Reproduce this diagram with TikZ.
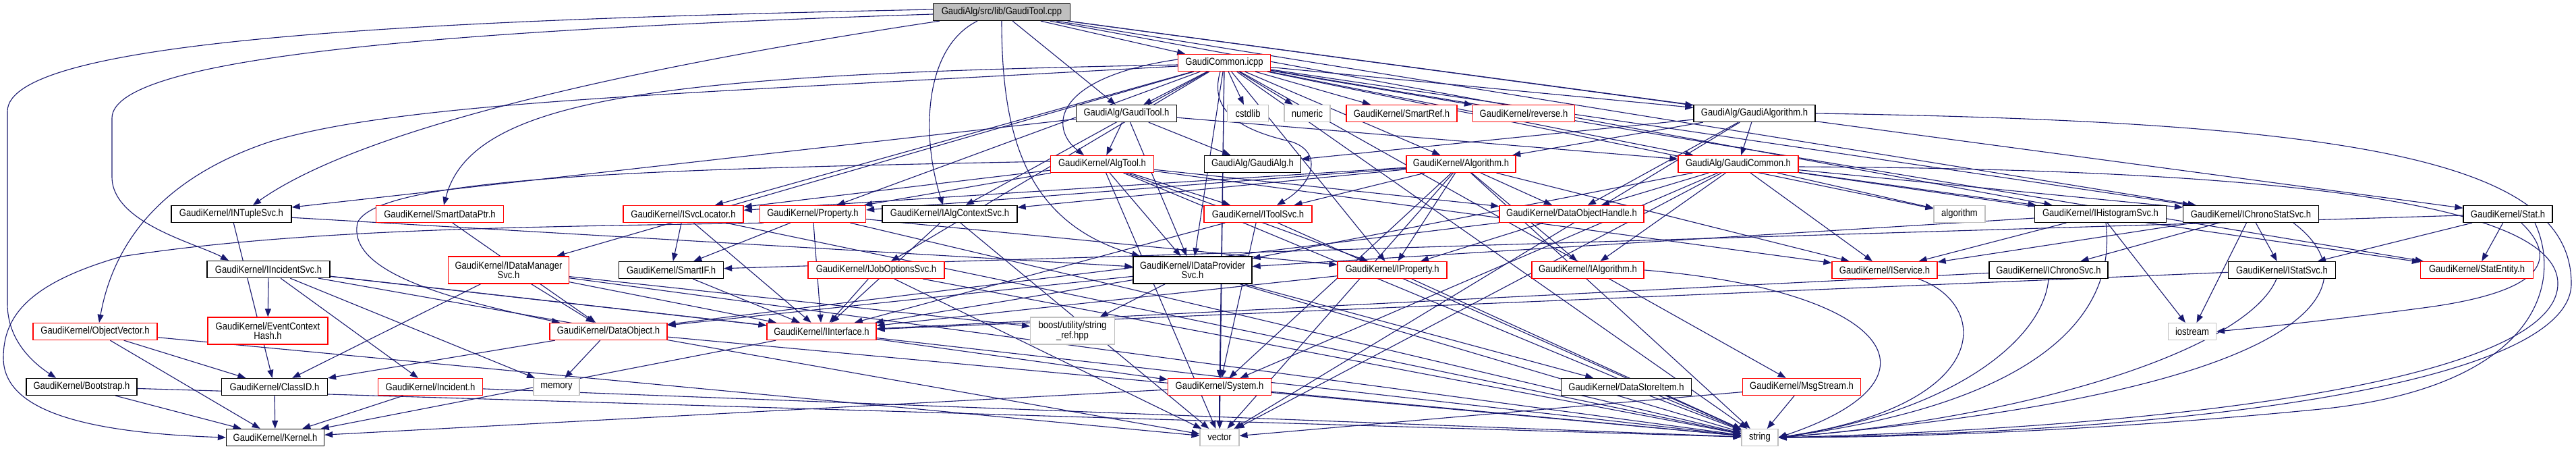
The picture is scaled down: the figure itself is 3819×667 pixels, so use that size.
\documentclass[tikz,border=0pt]{standalone}
\usepackage{fontspec}
\setmainfont{Liberation Sans}[FakeStretch=0.87]
\usetikzlibrary{arrows.meta,backgrounds}
\definecolor{edgec}{RGB}{25,25,112}
\definecolor{gyc}{RGB}{191,191,191}
\definecolor{rdc}{RGB}{255,0,0}
\newcommand\nfont{\fontsize{15}{14.5}\selectfont}
\begin{document}
\begin{tikzpicture}[x=1pt,y=-1pt,
  nb/.style={draw,line width=1.3pt,minimum height=25pt,inner xsep=1pt,inner ysep=1pt,font=\nfont,align=center,fill=white},
  blk/.style={nb,draw=black},
  rd/.style={nb,draw=rdc},
  gy/.style={nb,draw=gyc,line width=1.1pt},
  topn/.style={nb,draw=black,fill=gyc},
  two/.style={minimum height=40pt},
  e/.style={draw=edgec,line width=1.1pt,-{Triangle[length=12pt,width=9pt]}}]
\useasboundingbox (0,0) rectangle (3819,667);
% row 1-4
\node[topn,minimum width=203] (cpp) at (1485,18) {GaudiAlg/src/lib/GaudiTool.cpp};
\node[rd,minimum width=137] (icpp) at (1815,93) {GaudiCommon.icpp};
\node[blk,minimum width=149] (gtoolh) at (1670,168) {GaudiAlg/GaudiTool.h};
\node[gy,minimum width=61] (cstdlib) at (1850,168) {cstdlib};
\node[gy,minimum width=68] (numeric) at (1938,168) {numeric};
\node[rd,minimum width=164] (smartref) at (2078,168) {GaudiKernel/SmartRef.h};
\node[rd,minimum width=151] (reverse) at (2259,168) {GaudiKernel/reverse.h};
\node[blk,minimum width=180] (galgorithm) at (2601,168) {GaudiAlg/GaudiAlgorithm.h};
\node[rd,minimum width=153] (algtool) at (1634,243) {GaudiKernel/AlgTool.h};
\node[blk,minimum width=143] (galg) at (1857,243) {GaudiAlg/GaudiAlg.h};
\node[rd,minimum width=162] (algorithmh) at (2166,243) {GaudiKernel/Algorithm.h};
\node[rd,minimum width=178] (gcommon) at (2577,243) {GaudiAlg/GaudiCommon.h};
% row 5
\node[blk,minimum width=178] (intuple) at (343,317) {GaudiKernel/INTupleSvc.h};
\node[rd,minimum width=189] (smartdataptr) at (652,317) {GaudiKernel/SmartDataPtr.h};
\node[rd,minimum width=178] (svcloc) at (1013,317) {GaudiKernel/ISvcLocator.h};
\node[rd,minimum width=157] (property) at (1205,317) {GaudiKernel/Property.h};
\node[blk,minimum width=200] (algctx) at (1408,317) {GaudiKernel/IAlgContextSvc.h};
\node[rd,minimum width=160] (itoolsvc) at (1865,317) {GaudiKernel/IToolSvc.h};
\node[rd,minimum width=214] (doh) at (2330,317) {GaudiKernel/DataObjectHandle.h};
\node[gy,minimum width=76] (algorithm) at (2905,317) {algorithm};
\node[blk,minimum width=195] (ihisto) at (3114,317) {GaudiKernel/IHistogramSvc.h};
\node[blk,minimum width=201] (ichronostat) at (3337,317) {GaudiKernel/IChronoStatSvc.h};
\node[blk,minimum width=132] (stat) at (3718,317) {GaudiKernel/Stat.h};
% row 6
\node[blk,minimum width=182] (iincident) at (398,399) {GaudiKernel/IIncidentSvc.h};
\node[rd,two,minimum width=179] (idatamgr) at (754,400) {GaudiKernel/IDataManager\\Svc.h};
\node[blk,minimum width=155] (smartif) at (995,400) {GaudiKernel/SmartIF.h};
\node[rd,minimum width=202] (ijobopt) at (1299,400) {GaudiKernel/IJobOptionsSvc.h};
\node[blk,two,minimum width=176] (idataprov) at (1768,400) {GaudiKernel/IDataProvider\\Svc.h};
\node[rd,minimum width=162] (iproperty) at (2064,400) {GaudiKernel/IProperty.h};
\node[rd,minimum width=166] (ialgorithm) at (2354,400) {GaudiKernel/IAlgorithm.h};
\node[rd,minimum width=156] (iservice) at (2794,400) {GaudiKernel/IService.h};
\node[blk,minimum width=176] (ichrono) at (3037,400) {GaudiKernel/IChronoSvc.h};
\node[blk,minimum width=159] (istatsvc) at (3383,400) {GaudiKernel/IStatSvc.h};
\node[rd,minimum width=167] (statentity) at (3672,400) {GaudiKernel/StatEntity.h};
% row 7
\node[rd,minimum width=184] (objvec) at (141,491) {GaudiKernel/ObjectVector.h};
\node[rd,two,minimum width=178] (evctxhash) at (397,490) {GaudiKernel/EventContext\\Hash.h};
\node[rd,minimum width=174] (dataobject) at (902,491) {GaudiKernel/DataObject.h};
\node[rd,minimum width=162] (iinterface) at (1218,491) {GaudiKernel/IInterface.h};
\node[gy,two,minimum width=125] (boostsr) at (1590,490) {boost/utility/string\\\_ref.hpp};
\node[gy,minimum width=71] (iostream) at (3250,491) {iostream};
% row 8
\node[blk,minimum width=164] (bootstrap) at (121,573) {GaudiKernel/Bootstrap.h};
\node[blk,minimum width=157] (classid) at (407,573) {GaudiKernel/ClassID.h};
\node[rd,minimum width=155] (incident) at (638,573) {GaudiKernel/Incident.h};
\node[gy,minimum width=68] (memory) at (825,573) {memory};
\node[rd,minimum width=153] (system) at (1808,573) {GaudiKernel/System.h};
\node[blk,minimum width=193] (datastoreitem) at (2411,573) {GaudiKernel/DataStoreItem.h};
\node[rd,minimum width=175] (msgstream) at (2671,573) {GaudiKernel/MsgStream.h};
% row 9
\node[blk,minimum width=145] (kernel) at (408,648) {GaudiKernel/Kernel.h};
\node[gy,minimum width=58] (vector) at (1808,648) {vector};
\node[gy,minimum width=54] (string) at (2609,648) {string};

\begin{scope}[on background layer]
\fill[white] (0,0) rectangle (3819,667);
% curved connectors
\draw[e] ([yshift=4pt]cpp.west) .. controls (600,30) and (11,60) .. (11,165) -- (11,450) .. controls (11,505) and (50,538) .. ([xshift=-38pt]bootstrap.north);
\draw[e] ([yshift=-3pt]cpp.west) .. controls (650,45) and (166,85) .. (166,175) -- (166,262) .. controls (166,330) and (290,360) .. ([xshift=-59pt]iincident.north);
\draw[e] ([xshift=10pt]cpp.south west) .. controls (1000,90) and (550,180) .. ([xshift=32pt]intuple.north);
\draw[e] ([xshift=-36pt]cpp.south) .. controls (1370,70) and (1365,200) .. ([xshift=-10pt]algctx.north);
\draw[e] (cpp.south) .. controls (1485,200) and (1520,330) .. ([xshift=-78pt]idataprov.north);
\draw[e] ([yshift=-5pt]icpp.west) .. controls (1000,140) and (600,150) .. (400,210) .. controls (250,260) and (170,350) .. ([xshift=6pt]objvec.north);
\draw[e] ([yshift=-3pt]icpp.west) .. controls (1000,110) and (700,140) .. ([xshift=6pt]smartdataptr.north);
\draw[e] ([yshift=5pt]icpp.west) .. controls (1560,115) and (1555,190) .. ([xshift=-27pt]algtool.north);
\draw[e] ([xshift=-6pt]icpp.south) .. controls (1790,170) and (1850,195) .. (1915,210) .. controls (1960,225) and (1950,270) .. ([xshift=28pt]itoolsvc.north);
\draw[e] ([xshift=6pt]property.south west) .. controls (800,336) and (450,338) .. (180,380) .. controls (40,420) and (5,470) .. (5,530) .. controls (5,600) and (100,640) .. (kernel.west);
\draw[e] ([yshift=4pt]algtool.west) .. controls (1000,250) and (560,260) .. (530,330) .. controls (515,400) and (650,440) .. ([xshift=-72pt]dataobject.north);
% sweeping curves into string and iostream on the right
\draw[e] (galgorithm.east) .. controls (3500,180) and (3812,240) .. (3812,420) .. controls (3812,560) and (3300,640) .. (string.east);
\draw[e] ([yshift=-4pt]gcommon.east) .. controls (3300,250) and (3792,290) .. (3792,420) .. controls (3792,560) and (3250,632) .. (string.east);
\draw[e] ([xshift=40pt]stat.south) .. controls (3800,420) and (3760,570) .. (3450,605) .. controls (3100,640) and (2800,648) .. (string.east);
\draw[e] ([xshift=20pt]stat.south) .. controls (3790,380) and (3780,430) .. (3600,455) .. controls (3450,475) and (3350,485) .. (iostream.east);
\draw[e] ([xshift=8pt]ihisto.south) .. controls (3140,480) and (3000,600) .. (string.east);
\draw[e] ([xshift=63pt]ichronostat.south) .. controls (3520,420) and (3450,580) .. (string.east);
\draw[e] ([xshift=-8pt]istatsvc.south) .. controls (3330,520) and (3000,620) .. (string.east);
\draw[e] (ichrono.south) .. controls (3030,500) and (2900,610) .. (string.east);
\draw[e] (ialgorithm.east) .. controls (2800,430) and (2900,560) .. (string.east);
\draw[e] ([xshift=50pt]iservice.south) .. controls (2950,450) and (2960,600) .. (string.east);
% straight connectors
\foreach \sa/\ta in {
cpp/icpp, cpp/gtoolh, cpp/galgorithm, cpp/ihisto, cpp/ichronostat, cpp/stat,
icpp/cstdlib, icpp/numeric, icpp/smartref, icpp/reverse, icpp/gtoolh, icpp/galgorithm, icpp/gcommon, icpp/algorithmh, icpp/svcloc, icpp/property, icpp/idatamgr, icpp/ijobopt, icpp/iproperty, icpp/algctx, icpp/idataprov, icpp/algorithm, icpp/statentity, icpp/msgstream, icpp/system, icpp/string, icpp/vector, icpp/ichronostat,
gtoolh/algtool, gtoolh/galg, gtoolh/gcommon, gtoolh/idataprov, gtoolh/intuple,
galgorithm/galg, galgorithm/gcommon, galgorithm/algorithmh, galgorithm/doh, galgorithm/vector,
algtool/svcloc, algtool/property, algtool/itoolsvc, algtool/iproperty, algtool/iservice, algtool/doh, algtool/idataprov, algtool/vector, algtool/string,
algorithmh/iproperty, algorithmh/ialgorithm, algorithmh/iservice, algorithmh/svcloc, algorithmh/property, algorithmh/system, algorithmh/doh, algorithmh/itoolsvc, algorithmh/algctx, algorithmh/vector, algorithmh/string,
gcommon/doh, gcommon/algorithm, gcommon/statentity, gcommon/ichronostat, gcommon/ihisto, gcommon/iservice, gcommon/ialgorithm, gcommon/idataprov, gcommon/system, gcommon/vector,
intuple/classid, intuple/idataprov,
smartdataptr/dataobject,
svcloc/smartif, svcloc/iinterface, svcloc/string,
property/smartif, property/iproperty, property/iinterface, property/string,
algctx/iinterface, algctx/vector,
itoolsvc/system, itoolsvc/iinterface, itoolsvc/string,
doh/iproperty, doh/dataobject,
ihisto/idataprov, ihisto/iservice, ihisto/iostream,
ichronostat/iservice, ichronostat/ichrono, ichronostat/iostream, ichronostat/istatsvc,
stat/istatsvc, stat/statentity, stat/smartif,
iincident/evctxhash, iincident/incident, iincident/iinterface, iincident/string, iincident/vector, iincident/memory,
idatamgr/classid, idatamgr/dataobject, idatamgr/iinterface, idatamgr/string, idatamgr/boostsr,
smartif/iinterface,
ijobopt/iinterface, ijobopt/string, ijobopt/vector,
idataprov/boostsr, idataprov/iinterface, idataprov/dataobject, idataprov/datastoreitem, idataprov/string,
iproperty/iinterface, iproperty/string,
ichrono/iinterface,
istatsvc/iinterface,
objvec/classid, objvec/kernel, objvec/vector,
bootstrap/kernel, bootstrap/string,
classid/kernel,
incident/kernel, incident/string,
dataobject/memory, dataobject/classid, dataobject/string,
iinterface/kernel, iinterface/system,
system/vector, system/kernel, system/string,
datastoreitem/string,
msgstream/string, msgstream/vector}
  \draw[e] (\sa) -- (\ta);
\end{scope}
\end{tikzpicture}
\end{document}
